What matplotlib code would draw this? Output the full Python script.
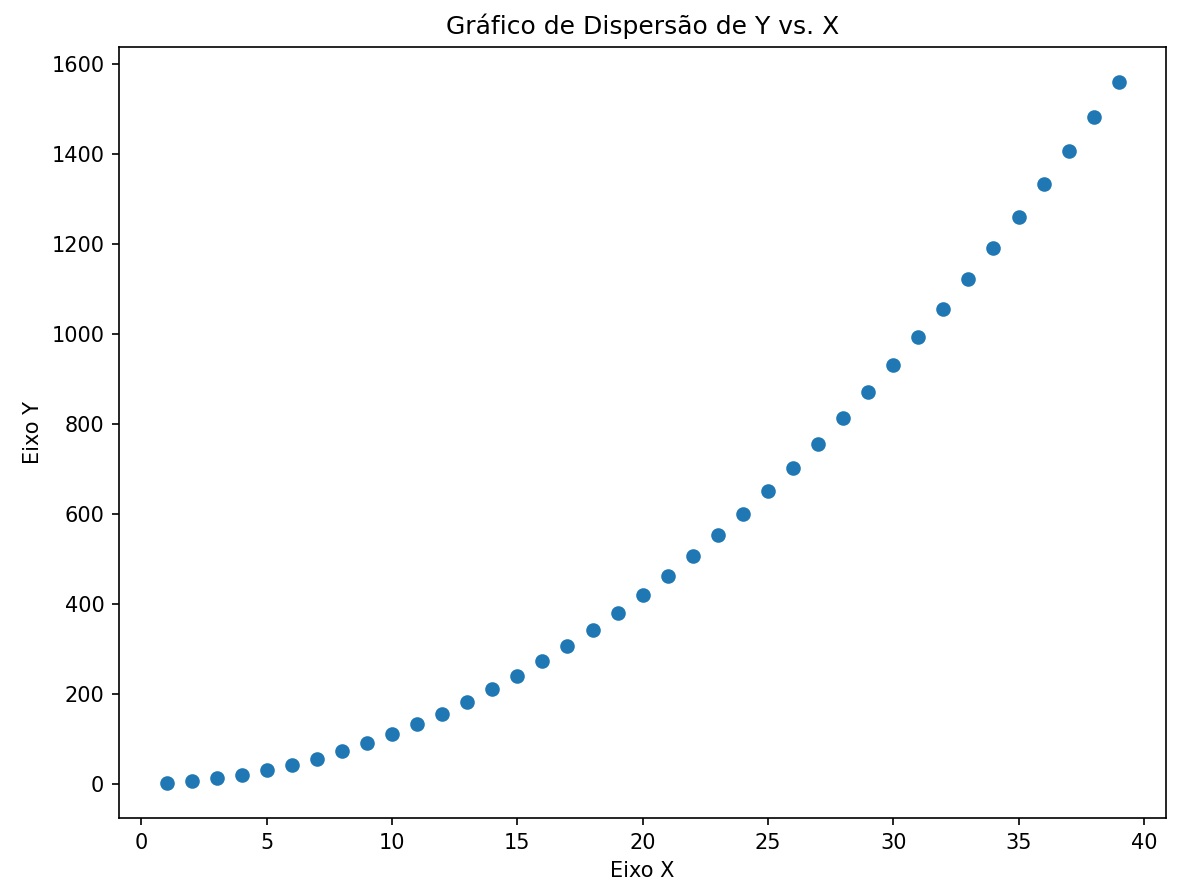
import matplotlib.pyplot as plt

# valeurs
x = [1, 2, 3, 4, 5, 6, 7, 8, 9, 10, 11, 12, 13, 14, 15, 16, 17, 18, 19, 20,
     21, 22, 23, 24, 25, 26, 27, 28, 29, 30, 31, 32, 33, 34, 35, 36, 37, 38, 39]
y = [2, 6, 12, 20, 30, 42, 56, 72, 90, 110, 132, 156, 182, 210, 240, 272, 306,
     342, 380, 420, 462, 506, 552, 600, 650, 702, 756, 812, 870, 930, 992, 1056,
     1122, 1190, 1260, 1332, 1406, 1482, 1560]

fig, ax = plt.subplots(figsize=(1189 / 150, 896 / 150), dpi=150)
ax.scatter(x, y, color='#1f77b4')
ax.set_title('Gráfico de Dispersão de Y vs. X')
ax.set_xlabel('Eixo X')
ax.set_ylabel('Eixo Y')
plt.subplots_adjust(left=0.100, right=0.981, top=0.948, bottom=0.087)
plt.savefig('out.png', dpi=150)
